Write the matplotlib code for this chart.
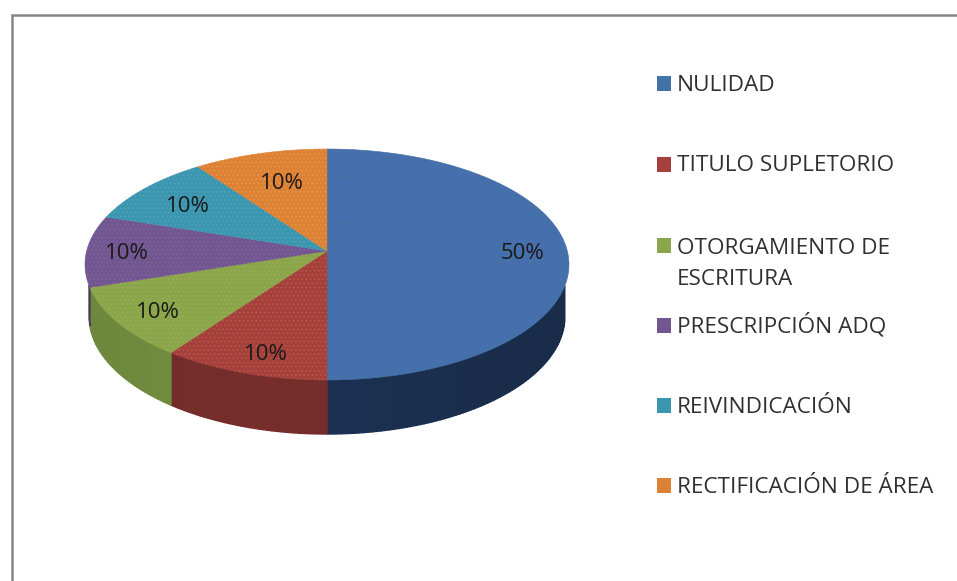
import numpy as np
import matplotlib
matplotlib.use("Agg")
import matplotlib.pyplot as plt
from matplotlib.patches import Polygon, Rectangle

plt.rcParams["font.family"] = ["Open Sans", "DejaVu Sans"]
plt.rcParams["hatch.linewidth"] = 0.5

categories = ["NULIDAD", "TITULO SUPLETORIO", "OTORGAMIENTO DE\nESCRITURA",
              "PRESCRIPCIÓN ADQ", "REIVINDICACIÓN", "RECTIFICACIÓN DE ÁREA"]
values = [50, 10, 10, 10, 10, 10]
labels = ["50%", "10%", "10%", "10%", "10%", "10%"]

colors = ["#4372a8", "#a5403d", "#8aa64a", "#71568f", "#3b96af", "#dd8234"]
dots = ["#5a5fc4", "#b8604a", "#a8a85c", "#8464a8", "#5aa0c0", "#e89a50"]
side_colors = ["#1b3050", "#722c2a", "#708b3e", "#4a3560", "#25606f", "#8f5420"]
label_radius = [0.8, 0.84, 0.82, 0.83, 0.75, 0.7]
label_dx = [3, 8, 0, -1, 0, 3]
legend_base = [91, 171, 285, 333, 413, 493]
legend_box_y = [83, 164, 245, 325, 405.5, 485.5]

# pie geometry in pixels
cx, cy, rx, ry = 327, 264.5, 242, 115.5
bot_cy, bot_rx, bot_ry = 316, 238, 118
tilt = -0.117


def project(theta, r=1.0):
    # theta clockwise from the top, perspective moves the apex up from the centre
    x = r * np.sin(theta)
    y = -r * np.cos(theta)
    d = 1 + tilt * y
    return cx + rx * x * np.sqrt(1 - tilt ** 2) / d, cy + ry * (y + tilt) / d


def shade(color, f):
    return tuple(min(1, c * f) for c in matplotlib.colors.to_rgb(color))


fig = plt.figure(figsize=(9.57, 5.81), dpi=100)
ax = fig.add_axes([0, 0, 1, 1])
ax.set_xlim(0, 957)
ax.set_ylim(581, 0)
ax.axis("off")

ax.plot([11.5, 11.5, 957], [581, 14.5, 14.5], color="#868686", lw=1.8, solid_joinstyle="miter")

edges = np.cumsum([0] + values) / sum(values) * 2 * np.pi

# sides first, cut in thin strips for the shading
for i in range(len(values)):
    n = int(max(4, (edges[i + 1] - edges[i]) * 60))
    t = np.linspace(edges[i], edges[i + 1], n + 1)
    for a, b in zip(t[:-1], t[1:]):
        xa, ya = project(a)
        xb, yb = project(b)
        # only the front of the rim, and only inside the narrower bottom ellipse
        if ya < cy or yb < cy or abs(xa - cx) > bot_rx or abs(xb - cx) > bot_rx:
            continue
        ba = bot_cy + bot_ry * np.sqrt(1 - ((xa - cx) / bot_rx) ** 2)
        bb = bot_cy + bot_ry * np.sqrt(1 - ((xb - cx) / bot_rx) ** 2)
        f = 1.04 - 0.1 * abs((xa - cx) / rx + 0.3)
        c = shade(side_colors[i], f)
        ax.add_patch(Polygon([(xa, ya), (xb, yb), (xb, bb), (xa, ba)], closed=True,
                             facecolor=c, edgecolor=c, lw=1.0, zorder=2))

# top face
for i in range(len(values)):
    t = np.linspace(edges[i], edges[i + 1], 80)
    px, py = project(t)
    pts = [project(0.0, 0.0)] + list(zip(px, py))
    ax.add_patch(Polygon(pts, closed=True, facecolor=colors[i], edgecolor=colors[i], lw=0.4, zorder=3))
    ax.add_patch(Polygon(pts, closed=True, facecolor="none", edgecolor=dots[i], lw=0, hatch="....", zorder=3.1))
    mid = (edges[i] + edges[i + 1]) / 2
    lx, ly = project(mid, label_radius[i])
    ax.text(lx + label_dx[i], ly + 3, labels[i], ha="center", va="center", fontsize=16, color="#1a1a1a", zorder=5)

# legend
for i in range(len(categories)):
    ax.add_patch(Rectangle((657, legend_box_y[i] - 7.5), 14, 15, facecolor=colors[i], edgecolor="none"))
    ax.text(677, legend_base[i], categories[i], ha="left", va="baseline", fontsize=16.2,
            color="#303030", linespacing=1.6)

fig.savefig("out.png", dpi=100)
